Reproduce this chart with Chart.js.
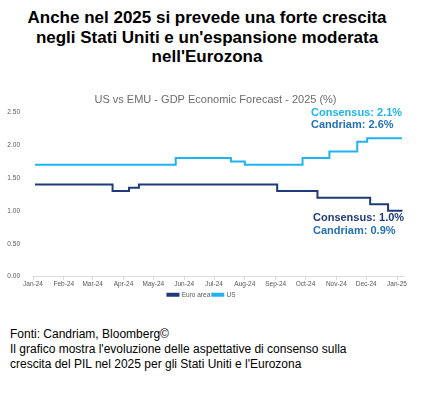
<!DOCTYPE html>
<html>
<head>
<meta charset="utf-8">
<script src="https://cdn.jsdelivr.net/npm/chart.js@4"></script>
<style>
  html, body { margin: 0; padding: 0; background: #fff; width: 428px; height: 398px; overflow: hidden; }
  body { position: relative; font-family: "Liberation Sans", Arial, sans-serif; }
  #title { position: absolute; left: 0; top: 8px; width: 414px; text-align: center; font-weight: bold; font-size: 17px; line-height: 19.5px; color: #000; }
  #wrap { position: absolute; left: 0; top: 85px; width: 428px; height: 223px; }
  #foot { position: absolute; left: 10px; top: 327px; font-size: 12px; line-height: 15px; color: #000; }
</style>
</head>
<body>
<div id="title">Anche nel 2025 si prevede una forte crescita<br>negli Stati Uniti e un'espansione moderata<br>nell'Eurozona</div>
<div id="wrap"><canvas id="c"></canvas></div>
<div id="foot">Fonti: Candriam, Bloomberg©<br>Il grafico mostra l'evoluzione delle aspettative di consenso sulla<br>crescita del PIL nel 2025 per gli Stati Uniti e l'Eurozona</div>
<script>
// Days since 1 Jan 2024 where the consensus forecast changes (step points)
const euroDays   = [2, 80, 96.5, 106.5, 245.5, 286, 339, 357, 371.5];
const euroValues = [1.4, 1.3, 1.35, 1.4, 1.3, 1.2, 1.1, 1.0, 1.0];
const usDays     = [2, 143.5, 199, 213, 271, 298, 326, 336, 371];
const usValues   = [1.7, 1.8, 1.75, 1.7, 1.8, 1.9, 2.05, 2.1, 2.1];
// Month tick positions (days since 1 Jan 2024) and labels
const monthTickDays   = [0, 31, 60, 91, 121, 152, 182, 213, 244, 274, 305, 335, 366];
const monthTickLabels = ['Jan-24','Feb-24','Mar-24','Apr-24','May-24','Jun-24','Jul-24','Aug-24','Sep-24','Oct-24','Nov-24','Dec-24','Jan-25'];
const yTicks = [0, 0.5, 1.0, 1.5, 2.0, 2.5];
const seriesNames = ['Euro area', 'US'];
const chartTitle = 'US vs EMU - GDP Economic Forecast - 2025 (%)';
const usNotes   = ['Consensus: 2.1%', 'Candriam: 2.6%'];
const euroNotes = ['Consensus: 1.0%', 'Candriam: 0.9%'];

const NAVY = '#1f3a78';
const LIGHT = '#1fb4f0';
const MID = '#2470b8';
const FONT = '"Liberation Sans", Arial, sans-serif';

const toPts = (xs, ys) => xs.map((x, i) => ({ x: x, y: ys[i] }));

// Chart title centred on the full canvas width
const titlePlugin = {
  id: 'centredTitle',
  afterDraw(chart) {
    const ctx = chart.ctx;
    ctx.save();
    ctx.font = '11px ' + FONT;
    ctx.fillStyle = '#6b6b6b';
    ctx.textAlign = 'center';
    ctx.textBaseline = 'middle';
    ctx.fillText(chartTitle, chart.width / 2 + 1.5, 15);
    ctx.restore();
  }
};

const notesPlugin = {
  id: 'notes',
  afterDatasetsDraw(chart) {
    const ctx = chart.ctx;
    const ys = chart.scales.y;
    const area = chart.chartArea;
    ctx.save();
    ctx.font = 'bold 11px ' + FONT;
    ctx.textBaseline = 'middle';
    ctx.textAlign = 'left';
    const left = area.right - 92;
    const usY = ys.getPixelForValue(usValues[usValues.length - 1]);
    ctx.fillStyle = LIGHT;
    ctx.fillText(usNotes[0], left, usY - 25.5);
    ctx.fillStyle = MID;
    ctx.fillText(usNotes[1], left, usY - 13.5);
    const euY = ys.getPixelForValue(euroValues[euroValues.length - 1]);
    ctx.fillStyle = NAVY;
    ctx.fillText(euroNotes[0], left + 2, euY + 7.5);
    ctx.fillStyle = MID;
    ctx.fillText(euroNotes[1], left + 2, euY + 20);
    ctx.restore();
  }
};

new Chart(document.getElementById('c'), {
  type: 'line',
  data: {
    datasets: [
      { label: seriesNames[0], data: toPts(euroDays, euroValues), borderColor: NAVY, backgroundColor: NAVY, borderWidth: 2, pointRadius: 0, stepped: true, fill: false },
      { label: seriesNames[1], data: toPts(usDays, usValues), borderColor: LIGHT, backgroundColor: LIGHT, borderWidth: 2, pointRadius: 0, stepped: true, fill: false }
    ]
  },
  options: {
    responsive: true,
    maintainAspectRatio: false,
    animation: false,
    layout: { padding: { left: 0, right: 25, top: 27, bottom: 0 } },
    plugins: {
      title: { display: false },
      legend: {
        position: 'bottom',
        labels: { color: '#595959', font: { family: FONT, size: 6.5 }, boxWidth: 11, boxHeight: 2, padding: 2 }
      },
      tooltip: { enabled: false }
    },
    scales: {
      x: {
        type: 'linear', min: 0, max: 372,
        afterBuildTicks(scale) { scale.ticks = monthTickDays.map(v => ({ value: v })); },
        ticks: {
          autoSkip: false, maxRotation: 0, color: '#595959', padding: 1,
          font: { family: FONT, size: 6.5 },
          callback(v) { const i = monthTickDays.indexOf(v); return i >= 0 ? monthTickLabels[i] : ''; }
        },
        grid: { display: true, drawOnChartArea: false, tickLength: 3, color: '#d9d9d9' },
        border: { display: true, color: '#d9d9d9' }
      },
      y: {
        min: 0, max: 2.5,
        afterBuildTicks(scale) { scale.ticks = yTicks.map(v => ({ value: v })); },
        afterFit(scale) { scale.width = 33; },
        ticks: { color: '#595959', padding: 5, font: { family: FONT, size: 6.5 }, callback(v) { return Number(v).toFixed(2); } },
        grid: { display: false },
        border: { display: false }
      }
    }
  },
  plugins: [notesPlugin, titlePlugin]
});
</script>
</body>
</html>
